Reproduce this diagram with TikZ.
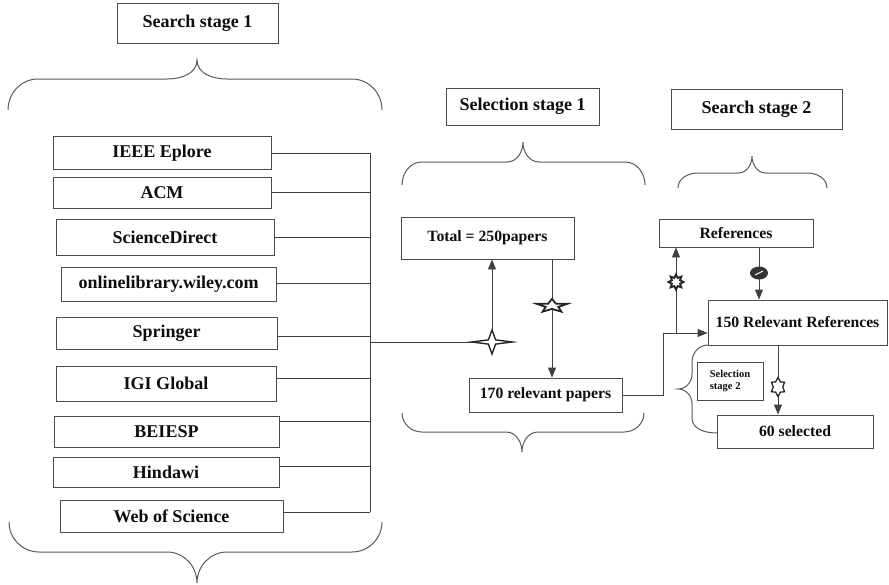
\documentclass[tikz,border=0pt]{standalone}
\usepackage{fontspec}
\setmainfont{Liberation Serif}
\usetikzlibrary{arrows.meta,shapes.geometric}
\tikzset{>={Triangle[length=10pt,width=8pt]}}

\begin{document}
\begin{tikzpicture}[x=1pt,y=-1pt,
  box/.style={draw=black!70,line width=.9pt,inner sep=0pt,text=black!95,
    font=\bfseries\fontsize{18}{20}\selectfont},
  rbox/.style={box,font=\bfseries\fontsize{15.7}{18}\selectfont},
  link/.style={black!75,line width=.9pt},
  brc/.style={black!65,line width=1pt},
  sym/.style={draw=black!85,fill=white,line width=1.4pt,inner sep=0pt}]
\useasboundingbox (0,0) rectangle (889,584);

% search stage 1
\node[box,minimum width=161,minimum height=40] (ss1) at (197.5,23) {Search stage 1};
\draw[brc] (8,110) to[out=90,in=180] (38,79) -- (167,79) to[out=0,in=-90] (197,60)
  to[out=-90,in=180] (227,79) -- (352,79) to[out=0,in=90] (382,110);
\draw[brc] (9,522) to[out=-90,in=180] (39,552) -- (167,552) to[out=0,in=90] (197,583)
  to[out=90,in=180] (227,552) -- (352,552) to[out=0,in=-90] (382,522);

% databases
\node[box,minimum width=218,minimum height=33] (ieee) at (162,153) {IEEE Eplore};
\node[box,minimum width=218,minimum height=31] (acm) at (162,192.5) {ACM};
\node[box,minimum width=218,minimum height=36] (scid) at (165,237) {ScienceDirect};
\node[box,minimum width=215,minimum height=34] (wiley) at (168.5,284) {onlinelibrary.wiley.com};
\node[box,minimum width=221,minimum height=32] (springer) at (166.5,333) {Springer};
\node[box,minimum width=220,minimum height=35] (igi) at (166,383.5) {IGI Global};
\node[box,minimum width=225,minimum height=31] (beiesp) at (166.5,431.5) {BEIESP};
\node[box,minimum width=226,minimum height=30] (hindawi) at (166,472) {Hindawi};
\node[box,minimum width=223,minimum height=32] (wos) at (171.5,516) {Web of Science};

\coordinate (bus) at (370,342);
\foreach \db/\dy in {ieee/0,acm/0,scid/0,wiley/1,springer/-3,igi/5.5,beiesp/10.5,hindawi/6,wos/4}
  \draw[link] ([yshift=\dy pt]\db.east) coordinate (tmp) -- (tmp -| bus);
\coordinate (busstart) at (370,153);
\coordinate (busend) at (370,512);
\draw[link] (busstart) -- (busend);

% selection stage 1
\node[box,minimum width=153,minimum height=37] (sel1) at (522.5,106.5) {Selection stage 1};
\draw[brc] (402,185) to[out=90,in=180] (422,162) -- (507,162) to[out=0,in=-90] (523,142)
  to[out=-90,in=180] (539,162) -- (625,162) to[out=0,in=90] (645,185);
\draw[brc] (402,413) to[out=-90,in=180] (422,432) -- (506,432) to[out=0,in=90] (522,452)
  to[out=90,in=180] (538,432) -- (624,432) to[out=0,in=-90] (644,413);
\node[rbox,minimum width=173,minimum height=42] (total) at (487.5,238) {Total = 250papers};
\node[rbox,minimum width=153,minimum height=34] (papers) at (545.5,395) {170 relevant papers};

% search stage 2
\node[box,minimum width=171,minimum height=40] (ss2) at (756.5,109) {Search stage 2};
\draw[brc] (678,188) to[out=90,in=180] (698,173) -- (738,173) to[out=0,in=-90] (752,156)
  to[out=-90,in=180] (766,173) -- (807,173) to[out=0,in=90] (827,188);
\node[rbox,minimum width=154,minimum height=28] (refs) at (736,233) {References};
\node[rbox,minimum width=179,minimum height=45] (rel150) at (797.5,322.5) {150 Relevant References};
\node[rbox,minimum width=156,minimum height=33] (sel60) at (795,431.5) {60 selected};
\node[box,minimum width=66,minimum height=38,align=left,
  font=\bfseries\fontsize{10.5}{12}\selectfont] (sel2) at (730,381) {Selection\\stage 2};
\draw[brc] (708,345) to[out=180,in=90] (692,362) -- (692,374) to[out=-90,in=0] (678,389)
  to[out=0,in=90] (692,404) -- (692,418) to[out=-90,in=180] (717,433);

% arrows
\coordinate (spk) at (492,342);
\coordinate (st5) at (552,306);
\coordinate (brst) at (676,282);
\coordinate (noent) at (759,273);
\coordinate (st6) at (778,387);
\coordinate (kink) at (663,333);
\draw[link] (bus) -- (spk);
\draw[link,->] (spk) -- (spk |- total.south);
\draw[link,->] (st5 |- total.south) -- (st5 |- papers.north);
\draw[link,->] (papers.east) -| (kink) -- (kink -| rel150.west);
\draw[link,->] (brst |- kink) -- (brst |- refs.south);
\draw[link,->] (noent |- refs.south) -- (noent |- rel150.north);
\draw[link,->] (st6 |- rel150.south) -- (st6 |- sel60.north);

% marks on the arrows
\node[sym,star,star points=4,star point ratio=4,minimum size=24,xscale=1.7] (spkm) at (spk) {};
\node[sym,star,star points=5,star point ratio=2.4,minimum size=20,xscale=1.6,yscale=.7,line width=1.8pt] (st5m) at (st5) {};
\node[sym,star,star points=8,star point ratio=1.7,minimum size=15,line width=1.9pt] (brstm) at (brst) {};
\node[ellipse,fill=black!80,minimum width=18,minimum height=13,inner sep=0pt,
  path picture={\draw[white,line width=1pt]
    ([xshift=-4pt,yshift=-2pt]path picture bounding box.center) --
    ([xshift=4pt,yshift=2pt]path picture bounding box.center);}] (noentm) at (noent) {};
\node[sym,star,star points=6,star point ratio=1.6,minimum size=19,xscale=.8,line width=1.3pt] (st6m) at (st6) {};
\end{tikzpicture}
\end{document}
